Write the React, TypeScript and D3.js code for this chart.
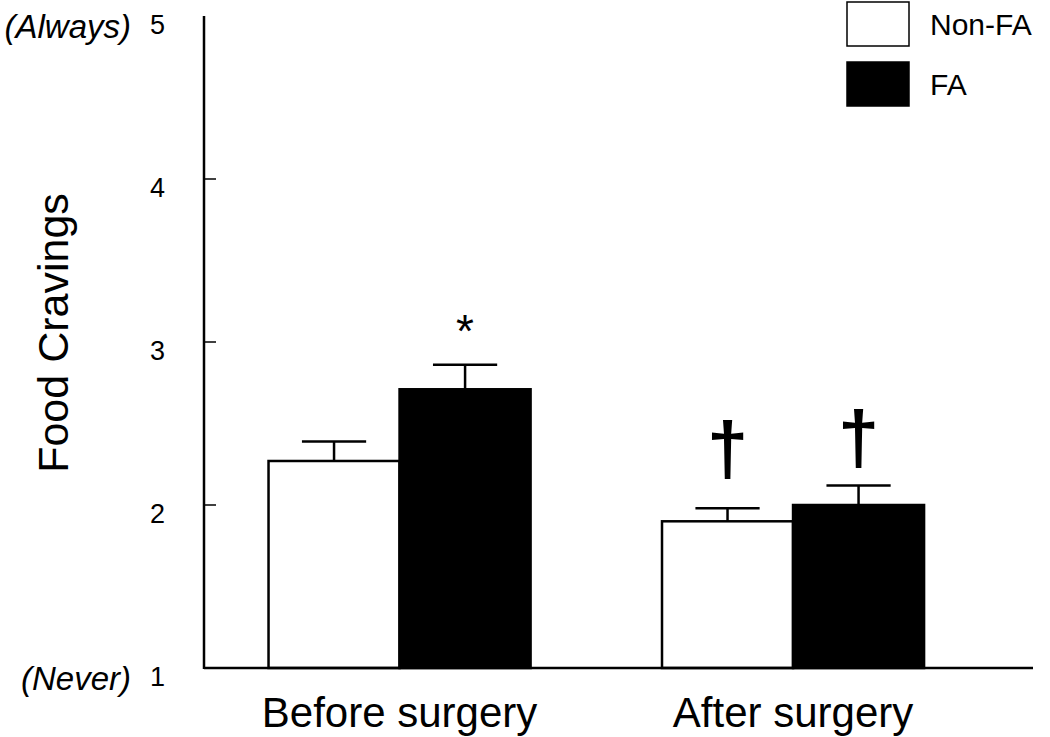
import React, { useRef, useEffect } from "react";
import * as d3 from "d3";

// categories and series
const groups = ["Before surgery", "After surgery"];
const seriesNames = ["Non-FA", "FA"];

// mean food cravings score per group, and SEM
const nonFaMeans = [2.27, 1.9];
const nonFaErr = [0.12, 0.08];
const faMeans = [2.71, 2.0];
const faErr = [0.15, 0.12];

// significance marks per bar
const nonFaMarks = ["", "†"];
const faMarks = ["*", "†"];

const yTicks = [1, 2, 3, 4, 5];
const yTickNotes: Record<number, string> = { 1: "(Never)", 5: "(Always)" };

const FONT = "'Liberation Sans', Arial, sans-serif";

export default function App() {
  const ref = useRef<HTMLDivElement>(null);

  useEffect(() => {
    if (!ref.current) return;
    document.body.style.margin = "0";
    ref.current.innerHTML = "";

    const w = 1050;
    const h = 737;

    const svg = d3.select(ref.current)
      .append("svg")
      .attr("width", w)
      .attr("height", h)
      .style("display", "block")
      .style("background", "#fff")
      .style("font-family", FONT);

    const axisX = 204;
    const axisRight = 1033;

    const y = d3.scaleLinear().domain([1, 5]).range([668, 16]);

    const x0 = d3.scaleBand<string>()
      .domain(groups)
      .range([axisX, 988.6])
      .paddingInner(0.334)
      .paddingOuter(0.164);

    const x1 = d3.scaleBand<string>()
      .domain(seriesNames)
      .range([0, x0.bandwidth()]);

    const rows = groups.map((g, i) => [
      { group: g, series: seriesNames[0], mean: nonFaMeans[i], err: nonFaErr[i], mark: nonFaMarks[i], fill: "#fff" },
      { group: g, series: seriesNames[1], mean: faMeans[i], err: faErr[i], mark: faMarks[i], fill: "#000" },
    ]).flat();

    // bars
    rows.forEach(d => {
      const bx = x0(d.group)! + x1(d.series)!;
      const bw = x1.bandwidth();
      const cx = bx + bw / 2;
      const top = y(d.mean);
      const capY = y(d.mean + d.err);

      // error bar (drawn first so bar covers stem base)
      svg.append("line")
        .attr("x1", cx).attr("x2", cx)
        .attr("y1", top).attr("y2", capY)
        .attr("stroke", "#000").attr("stroke-width", 2.5);
      svg.append("line")
        .attr("x1", cx - bw * 0.245).attr("x2", cx + bw * 0.245)
        .attr("y1", capY).attr("y2", capY)
        .attr("stroke", "#000").attr("stroke-width", 2.5);

      svg.append("rect")
        .attr("x", bx)
        .attr("y", top)
        .attr("width", bw)
        .attr("height", y(1) - top)
        .attr("fill", d.fill)
        .attr("stroke", "#000")
        .attr("stroke-width", 2.5);

      if (d.mark === "*") {
        svg.append("text")
          .attr("x", cx)
          .attr("y", capY - 18)
          .attr("text-anchor", "middle")
          .attr("font-size", 46)
          .text(d.mark);
      } else if (d.mark) {
        const gap = d.fill === "#fff" ? 30 : 18;
        svg.append("text")
          .attr("x", cx)
          .attr("y", capY - gap - 4)
          .attr("text-anchor", "middle")
          .attr("font-size", 74)
          .attr("font-weight", "bold")
          .text(d.mark);
      }
    });

    // axes
    svg.append("line")
      .attr("x1", axisX).attr("x2", axisX)
      .attr("y1", y(5)).attr("y2", y(1) + 1)
      .attr("stroke", "#000").attr("stroke-width", 2.5);
    svg.append("line")
      .attr("x1", axisX).attr("x2", axisRight)
      .attr("y1", y(1)).attr("y2", y(1))
      .attr("stroke", "#000").attr("stroke-width", 2.5);

    yTicks.forEach(t => {
      if (t > 1 && t < 5) {
        svg.append("line")
          .attr("x1", axisX).attr("x2", axisX + 12)
          .attr("y1", y(t)).attr("y2", y(t))
          .attr("stroke", "#000").attr("stroke-width", 1.5);
      }
      const note = yTickNotes[t];
      svg.append("text")
        .attr("x", 165)
        .attr("y", y(t) + 9)
        .attr("dy", "0.35em")
        .attr("text-anchor", "end")
        .attr("font-size", 27)
        .text(String(t));
      if (note) {
        svg.append("text")
          .attr("x", 131)
          .attr("y", y(t) + 10)
          .attr("dy", "0.35em")
          .attr("text-anchor", "end")
          .attr("font-size", 33)
          .attr("font-style", "italic")
          .text(note);
      }
    });

    // x labels
    groups.forEach(g => {
      svg.append("text")
        .attr("x", x0(g)! + x0.bandwidth() / 2)
        .attr("y", 727)
        .attr("text-anchor", "middle")
        .attr("font-size", 42)
        .text(g);
    });

    // y title
    svg.append("text")
      .attr("transform", `translate(68, 333) rotate(-90)`)
      .attr("text-anchor", "middle")
      .attr("font-size", 43)
      .text("Food Cravings");

    // legend
    const legendFills = ["#fff", "#000"];
    seriesNames.forEach((s, i) => {
      const ly = 2 + i * 60;
      svg.append("rect")
        .attr("x", 847)
        .attr("y", ly)
        .attr("width", 62)
        .attr("height", 44)
        .attr("fill", legendFills[i])
        .attr("stroke", "#000")
        .attr("stroke-width", 1.5);
      svg.append("text")
        .attr("x", 930)
        .attr("y", ly + 22)
        .attr("dy", "0.35em")
        .attr("font-size", 30)
        .text(s);
    });
  }, []);

  return <div ref={ref} />;
}
